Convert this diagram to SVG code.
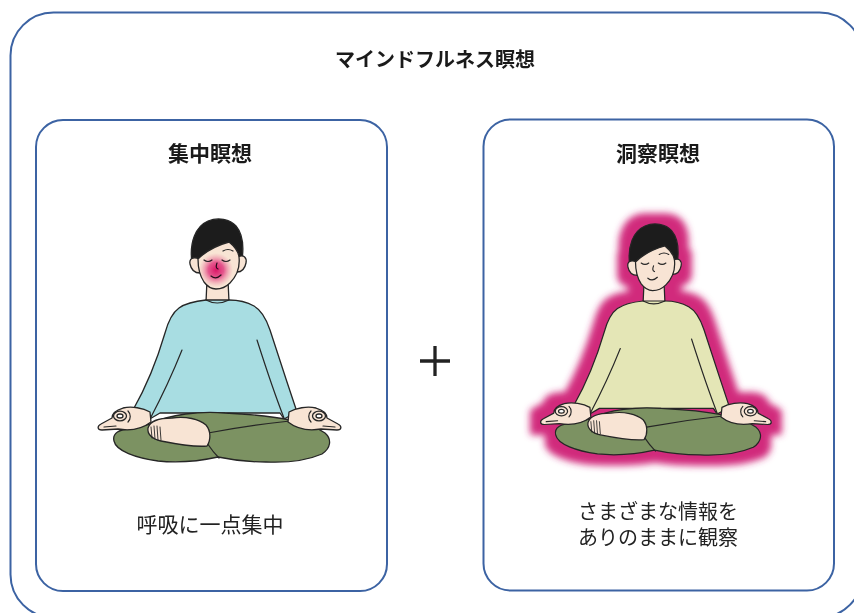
<svg xmlns="http://www.w3.org/2000/svg" xmlns:xlink="http://www.w3.org/1999/xlink" width="854" height="613" viewBox="0 0 854 613">
  <style>
    .frame { fill: none; stroke: #3c63a3; stroke-width: 2; }
    .heading { font-family: "Noto Sans CJK JP", "Noto Sans CJK SC", sans-serif; font-weight: 700; fill: #1a1a1a; text-anchor: middle; }
    .caption { font-family: "Noto Sans CJK JP", "Noto Sans CJK SC", sans-serif; font-weight: 400; fill: #222; text-anchor: middle; font-size: 20px; }
    .ol { stroke: #262626; stroke-width: 1.3; stroke-linejoin: round; stroke-linecap: round; }
    .ln { fill: none; stroke: #262626; stroke-width: 1.2; stroke-linecap: round; }
    .skin { fill: #f8e4d4; }
    .hair { fill: #1c1c1c; }
    .shirt { fill: currentColor; }
    .pants { fill: #7c9262; }
    .plus { stroke: #222; stroke-width: 3.3; }
  </style>
  <defs>
    <!-- soft magenta halo around a silhouette -->
    <filter id="glow" x="-25%" y="-25%" width="150%" height="150%">
      <feMorphology in="SourceAlpha" operator="dilate" radius="10" result="grown"/>
      <feGaussianBlur in="grown" stdDeviation="3.8" result="soft"/>
      <feFlood flood-color="#d12a7c"/>
      <feComposite in2="soft" operator="in"/>
    </filter>
    <radialGradient id="breath" cx="0.5" cy="0.5" r="0.5">
      <stop offset="0" stop-color="#e2187c"/>
      <stop offset="0.45" stop-color="#e8449a" stop-opacity="0.85"/>
      <stop offset="1" stop-color="#f4a0c8" stop-opacity="0"/>
    </radialGradient>

    <!-- hand in a mudra, resting on the knee -->
    <g id="hand">
      <path class="skin ol" d="M150,412 C143,408 132,406 123,408 C116,410 112,414 112,418 L101,424 C97,426 97,430 102,430 L118,429 C130,431 142,429 151,422 Z"/>
      <ellipse class="skin ol" cx="120" cy="416" rx="6.5" ry="4.8"/>
      <ellipse cx="120" cy="416" rx="3" ry="2" fill="#fff" class="ol"/>
      <path class="ln" d="M104,427 L116,426"/>
      <path class="ln" d="M128,411 C131,414 131,419 128,422"/>
    </g>

    <!-- seated figure; shirt colour comes from currentColor -->
    <g id="meditator">
      <!-- hair mass behind the face -->
      <path class="hair ol" d="M192,263 C189,242 196,226 208,221 C218,217 230,219 236,226 C242,233 244,246 242,260 L236,263 L198,267 Z"/>
      <!-- ears -->
      <path class="skin ol" d="M199,259 C193,256 189,259 190,264 C191,269 194,273 200,273 Z"/>
      <path class="skin ol" d="M238,257 C244,254 247,258 246,263 C245,268 242,272 237,272 Z"/>
      <!-- neck -->
      <path class="skin ol" d="M207,280 L206,302 L229,302 L228,280 Z"/>
      <!-- face with hairline -->
      <path class="skin ol" d="M198,259 C206,251 218,245 229,242 C234,246 238,250 239,257 C240,266 237,276 230,283 C226,287 221,289 216,289 C211,289 207,286 204,282 C200,276 198,268 198,259 Z"/>
      <!-- features -->
      <path class="ln" d="M204,260 Q208,263 212,260"/>
      <path class="ln" d="M222,260 Q226,263 230,260"/>
      <path class="ln" d="M223,251 Q228,248 233,251"/>
      <path class="ln" d="M217,263 Q215,268 218,269"/>
      <path class="ln" d="M211,276 Q216,280 221,275"/>

      <!-- shirt: torso and arms -->
      <path class="shirt ol" d="M206,300 C196,301 186,303 179,308 C172,313 168,322 165,333 C160,350 150,380 133,410 L148,420 L160,413 L280,413 L284,419 L297,412 C288,385 278,355 270,330 C266,318 261,310 254,306 C247,302 238,300 229,300 Z"/>
      <path class="ln" d="M206,300 Q217,306 229,300"/>
      <path class="ln" d="M182,350 C172,375 160,400 150,419"/>
      <path class="ln" d="M257,340 C265,365 275,395 284,418"/>

      <!-- crossed legs -->
      <path class="pants ol" d="M114,441 C112,433 120,429 130,429 L150,424 C170,414 200,411 225,413 C245,414 270,416 290,420 C305,423 318,428 325,433 C332,439 331,448 322,454 C308,460 288,463 266,462 C248,462 232,460 218,457 C200,461 178,463 158,461 C136,458 116,451 114,441 Z"/>
      <path class="ln" d="M207,443 C211,449 215,454 219,458"/>
      <path class="ln" d="M208,433 C235,428 262,424 290,421"/>

      <!-- upturned foot -->
      <path class="skin ol" d="M148,428 C150,421 160,418 172,418 C186,416 199,419 206,425 C211,431 211,440 207,446 C196,447 176,444 161,441 C152,439 147,434 148,428 Z"/>
      <path class="ln" d="M151,427 L152,438 M154,426 L155,439 M157,426 L158,440 M160,427 L161,440" style="stroke-width:0.9"/>

      <!-- hands -->
      <use xlink:href="#hand"/>
      <use xlink:href="#hand" transform="translate(439,0) scale(-1,1)"/>
    </g>
  </defs>

  <!-- outer frame -->
  <g id="mindfulness">
    <rect class="frame" x="10.5" y="12.5" width="852" height="605" rx="43"/>
    <text class="heading" x="435" y="67" font-size="20">マインドフルネス瞑想</text>
  </g>

  <!-- concentration meditation -->
  <g id="focused-attention">
    <rect class="frame" x="36" y="120" width="351" height="471" rx="27"/>
    <text class="heading" x="210" y="161" font-size="21">集中瞑想</text>
    <use xlink:href="#meditator" style="color:#a8dde2"/>
    <circle cx="216" cy="270" r="17" fill="url(#breath)" style="mix-blend-mode:multiply"/>
    <text class="caption" x="210" y="532" style="font-size:21px">呼吸に一点集中</text>
  </g>

  <!-- plus sign between the two panels -->
  <g id="plus">
    <path class="plus" d="M420,361 L450,361 M435,346 L435,376"/>
  </g>

  <!-- insight meditation -->
  <g id="open-monitoring">
    <rect class="frame" x="483.5" y="119.5" width="350.5" height="471" rx="27"/>
    <text class="heading" x="658" y="161" font-size="21">洞察瞑想</text>
    <use xlink:href="#meditator" transform="translate(447.4,16) scale(0.95)" filter="url(#glow)"/>
    <use xlink:href="#meditator" transform="translate(447.4,16) scale(0.95)" style="color:#e4e6b6"/>
    <text class="caption" x="658" y="518.5">さまざまな情報を</text>
    <text class="caption" x="658" y="545">ありのままに観察</text>
  </g>
</svg>
